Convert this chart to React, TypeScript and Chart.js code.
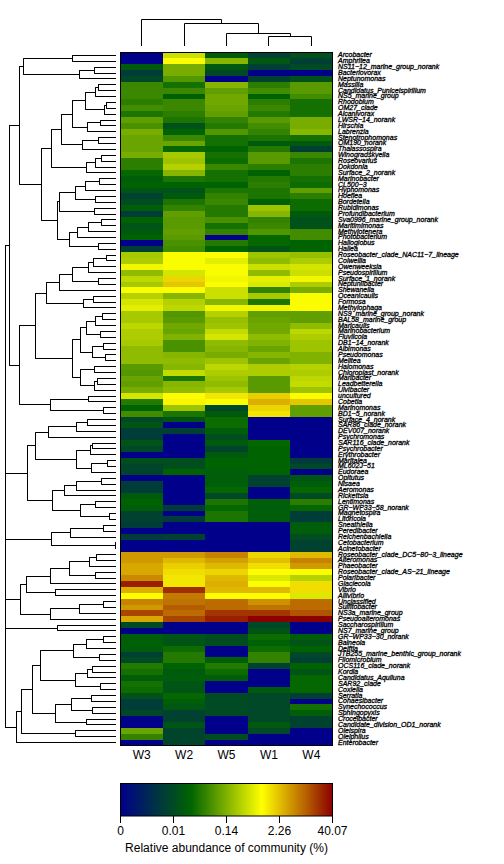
import React, { useEffect, useRef } from "react";
import { Chart, registerables } from "chart.js";

Chart.register(...registerables);

const samples = ["W3", "W2", "W5", "W1", "W4"];

const taxa = [
  "Arcobacter", "Amphritea", "NS11−12_marine_group_norank", "Bacteriovorax", "Neptunomonas", "Massilia",
  "Candidatus_Puniceispirillum", "NS5_marine_group", "Rhodobium", "OM27_clade", "Alcanivorax", "LWSR−14_norank",
  "Hirschia", "Labrenzia", "Stenotrophomonas", "OM190_norank", "Thalassospira", "Winogradskyella", "Roseovarius",
  "Dokdonia", "Surface_2_norank", "Marinobacter", "CL500−3", "Hyphomonas", "Hoeflea", "Bordetella", "Rubidimonas",
  "Profundibacterium", "Sva0996_marine_group_norank", "Maritimimonas", "Methylotenera", "Photobacterium",
  "Halioglobus", "Hallea", "Roseobacter_clade_NAC11−7_lineage", "Colwellia", "Owenweeksia", "Pseudospirillum",
  "Surface_1_norank", "Neptuniibacter", "Shewanella", "Oceanicaulis", "Formosa", "Methylophaga",
  "NS9_marine_group_norank", "BAL58_marine_group", "Maricaulis", "Marinobacterium", "Fluviicola", "DB1−14_norank",
  "Albimonas", "Pseudomonas", "Melitea", "Halomonas", "Chloroplast_norank", "Maribacter", "Leadbetterella",
  "Ulvibacter", "uncultured", "Cobetia", "Marinomonas", "BD1−5_norank", "Surface_4_norank", "SAR86_clade_norank",
  "DEV007_norank", "Psychromonas", "SAR116_clade_norank", "Psychrobacter", "Erythrobacter", "Maritalea", "ML602J−51",
  "Eudoraea", "Opitutus", "Nisaea", "Aeromonas", "Rickettsia", "Lentimonas", "GR−WP33−58_norank", "Magnetospira",
  "Litoricola", "Sneathiella", "Peredibacter", "Reichenbachiella", "Cetobacterium", "Acinetobacter",
  "Roseobacter_clade_DC5−80−3_lineage", "Alteromonas", "Phaeobacter", "Roseobacter_clade_AS−21_lineage",
  "Polaribacter", "Glaciecola", "Vibrio", "Aliivibrio", "Unclassified", "Sulfitobacter", "NS3a_marine_group",
  "Pseudoalteromonas", "Saccharospirillum", "NS7_marine_group", "GR−WP33−30_norank", "Balneola", "Delftia",
  "JTB255_marine_benthic_group_norank", "Filomicrobium", "OCS116_clade_norank", "Kordia", "Candidatus_Aquiluna",
  "SAR92_clade", "Coxiella", "Serratia", "Cohaesibacter", "Synechococcus", "Sphingopyxis", "Crocelbacter",
  "Candidate_division_OD1_norank", "Oleispira", "Oleiphilus", "Enterobacter",
];

// Abundance per sample, as a position (0-100) on the log colour key.
const w3 = [
  0, 0, 30, 20, 24, 41, 41, 41, 39, 42, 37, 46, 43, 49, 47, 47, 47, 49, 39, 39,
  34, 31, 33, 28, 22, 26, 31, 20, 33, 28, 30, 33, 0, 21, 55, 56, 65, 52, 58, 55,
  66, 57, 61, 63, 55, 55, 58, 56, 56, 55, 52, 52, 52, 45, 44, 47, 46, 49, 61, 38,
  33, 42, 24, 28, 20, 20, 28, 24, 0, 26, 23, 23, 0, 20, 20, 30, 33, 31, 22, 22,
  20, 0, 20, 0, 0, 80, 80, 78, 78, 82, 96, 77, 67, 83, 80, 91, 78, 25, 0, 31,
  32, 31, 21, 25, 38, 36, 31, 36, 35, 27, 20, 20, 24, 0, 0, 47, 40, 0,
];
const w2 = [
  60, 67, 49, 49, 44, 36, 41, 32, 41, 41, 39, 37, 27, 33, 41, 47, 34, 55, 54, 57,
  51, 37, 33, 27, 30, 37, 40, 46, 45, 45, 46, 45, 43, 42, 66, 66, 66, 61, 72, 74,
  67, 51, 57, 58, 44, 45, 48, 47, 50, 43, 43, 51, 52, 51, 59, 37, 51, 52, 67, 68,
  54, 37, 28, 0, 21, 0, 0, 0, 0, 26, 26, 33, 0, 0, 0, 0, 0, 20, 0, 20,
  0, 0, 22, 0, 0, 80, 76, 73, 71, 70, 70, 94, 84, 85, 88, 86, 91, 0, 0, 28,
  28, 35, 38, 38, 33, 30, 31, 28, 28, 34, 31, 29, 22, 22, 28, 23, 23, 23,
];
const w5 = [
  31, 51, 30, 24, 0, 51, 46, 48, 48, 47, 46, 40, 38, 44, 36, 36, 33, 36, 35, 41,
  36, 36, 33, 37, 40, 41, 38, 38, 43, 36, 40, 0, 38, 33, 67, 63, 66, 66, 65, 67,
  60, 60, 51, 65, 57, 53, 54, 59, 61, 52, 51, 49, 54, 58, 56, 54, 52, 55, 70, 67,
  24, 30, 35, 35, 31, 26, 30, 23, 30, 33, 33, 31, 31, 31, 34, 24, 37, 34, 37, 37,
  0, 0, 0, 0, 0, 83, 79, 76, 72, 76, 77, 76, 67, 86, 86, 93, 96, 0, 0, 26,
  26, 0, 0, 32, 38, 35, 31, 0, 0, 25, 25, 25, 25, 0, 0, 0, 26, 0,
];
const w1 = [
  22, 29, 21, 0, 22, 39, 42, 33, 39, 41, 38, 45, 42, 40, 37, 30, 38, 45, 45, 39,
  33, 38, 39, 37, 37, 32, 54, 51, 40, 41, 44, 34, 34, 28, 54, 52, 60, 52, 63, 62,
  40, 55, 37, 65, 46, 47, 48, 48, 52, 50, 47, 51, 47, 56, 56, 45, 45, 45, 73, 77,
  72, 70, 0, 0, 0, 0, 34, 33, 33, 33, 33, 33, 22, 22, 0, 0, 31, 31, 31, 31,
  0, 0, 0, 0, 0, 72, 75, 71, 67, 62, 67, 76, 67, 81, 85, 93, 100, 24, 28, 35,
  32, 35, 40, 40, 22, 0, 0, 0, 30, 24, 24, 24, 24, 24, 30, 24, 0, 0,
];
const w4 = [
  27, 21, 25, 0, 27, 45, 45, 42, 36, 36, 36, 49, 49, 51, 36, 30, 21, 41, 37, 39,
  39, 36, 35, 46, 39, 35, 35, 30, 27, 27, 42, 42, 33, 33, 53, 56, 61, 60, 65, 56,
  49, 66, 66, 67, 46, 46, 52, 58, 56, 54, 54, 50, 50, 57, 56, 58, 59, 54, 67, 74,
  46, 46, 0, 0, 0, 0, 0, 0, 0, 20, 24, 0, 28, 31, 34, 25, 39, 34, 20, 20,
  31, 31, 26, 22, 22, 76, 83, 80, 66, 57, 71, 71, 62, 86, 86, 89, 100, 0, 0, 31,
  28, 33, 24, 21, 33, 28, 34, 34, 34, 21, 0, 36, 31, 22, 22, 0, 0, 0,
];
const sampleLevels = [w3, w2, w5, w1, w4];

const keyTicks = ["0", "0.01", "0.14", "2.26", "40.07"];
const keyTitle = "Relative abundance of community (%)";
const keyColors = ["#00008b", "#006400", "#ffff00", "#8b0000"];

// Dendrograms: [merge height, ...children]; 0 is the next leaf in display order.
type Tree = 0 | [number, ...any[]];

const colTree: Tree = [79, 0, [67, 0, [37, 0, [28, 0, 0]]]];

const rowsArcobacter: Tree = [277, [130, 0, 0], [109, [64, 0, 0], 0]];
const rowsMassilia: Tree = [193,
  [163,
    [130,
      [91, [61, [52, 0, 0], 0], [34, [28, 0, 0], 0]],
      [85, [46, 0, 0], 0]],
    [100, [52, 0, 0], 0]],
  [88, [61, [43, 0, 0], 0], 0]];
const rowsMarinobacter: Tree = [175,
  [169, [121, [91, [49, 0, 0], 0], [61, 0, 0]], [64, 0, 0]],
  [139, [115, [82, [43, 0, 0], 0], 0], [52, 0, 0]]];
const rowsRoseoNac: Tree = [289,
  [241,
    [208,
      [169, [130, [82, [67, [28, 0, 0], 0], 0], [52, 0, 0]], 0],
      [97, [67, 0, 0], 0]],
    [130,
      [106, [88, [61, [40, 0, 0], 0], [46, 0, 0]], [70, [37, 0, 0], [31, 0, 0]]],
      [106, [64, 0, 0], [64, [55, 0, 0], 0]]]],
  [196, [82, 0, 0], [37, 0, 0]]];
const rowsSurface4: Tree = [265,
  [241,
    [202, [118, [85, 0, 0], 0], 0],
    [118, [76, [70, 0, 0], 0], [73, [25, 0, 0], 0]]],
  [190,
    [154, [118, [43, 0, 0], 0], 0],
    [106, [61, 0, 0], [19, 0, 0]]]];
const rowsSneathiella: Tree = [193, [136, [37, 0, 0], 0], [1, 0, 0]];
const rowsRoseoDc5: Tree = [286,
  [268,
    [196, [139, [79, [58, 0, 0], 0], [61, 0, 0]], 0],
    [181, 0, 0]],
  [196, [109, [37, 0, 0], 0], 0]];
const rowsSaccharo: Tree = [175, 0, 0];
const rowsGrWp: Tree = [298,
  [283,
    [250,
      [226, [127, [88, [37, 0, 0], 0], [49, 0, 0]], [121, [85, [70, 0, 0], 0], [46, 0, 0]]],
      [181, [133, [73, 0, 0], [70, 0, 0]], [88, 0, 0]]],
    [121, 0, 0]],
  0];
const rowTree: Tree = [331,
  [319, [289, rowsArcobacter, [223, rowsMassilia, rowsMarinobacter]], rowsRoseoNac],
  rowsSurface4, rowsSneathiella, rowsRoseoDc5, rowsSaccharo, rowsGrWp];

const hex = (s: string) => [1, 3, 5].map((i) => parseInt(s.slice(i, i + 2), 16));
function levelColor(level: number) {
  const t = (Math.min(100, Math.max(0, level)) / 100) * (keyColors.length - 1);
  const i = Math.min(keyColors.length - 2, Math.floor(t));
  const a = hex(keyColors[i]);
  const b = hex(keyColors[i + 1]);
  const f = t - i;
  const c = a.map((v, k) => Math.round(v + (b[k] - v) * f));
  return `rgb(${c[0]},${c[1]},${c[2]})`;
}

// Turns a tree into polyline points [position, height], split by NaN gaps.
function treeSegments(tree: Tree) {
  const segs: { pos: number; h: number }[] = [];
  const gap = () => segs.push({ pos: NaN, h: NaN });
  let next = 0;
  const walk = (n: Tree): { pos: number; h: number } => {
    if (n === 0) return { pos: next++ + 0.5, h: 0 };
    const h = n[0];
    const kids = (n.slice(1) as Tree[]).map(walk);
    const first = kids[0];
    const last = kids[kids.length - 1];
    segs.push({ pos: first.pos, h }, { pos: last.pos, h });
    gap();
    kids.forEach((k) => {
      segs.push({ pos: k.pos, h: k.h }, { pos: k.pos, h });
      gap();
    });
    return { pos: (first.pos + last.pos) / 2, h };
  };
  walk(tree);
  return segs;
}

const frame = {
  id: "frame",
  afterDraw(chart: any) {
    const { ctx, chartArea: a } = chart;
    ctx.save();
    ctx.strokeStyle = "#000";
    ctx.lineWidth = 1;
    ctx.strokeRect(a.left, a.top, a.right - a.left, a.bottom - a.top);
    ctx.restore();
  },
};
const whiteBack = {
  id: "whiteBack",
  beforeDraw(chart: any) {
    const { ctx, width, height } = chart;
    ctx.save();
    ctx.fillStyle = "#fff";
    ctx.fillRect(0, 0, width, height);
    ctx.restore();
  },
};
const snapBars = {
  id: "snapBars",
  afterDatasetsUpdate(chart: any) {
    chart.data.datasets.forEach((_: any, i: number) => {
      chart.getDatasetMeta(i).data.forEach((el: any) => {
        const top = Math.round(el.y - el.height / 2);
        const bottom = Math.round(el.y + el.height / 2);
        el.y = (top + bottom) / 2;
        el.height = bottom - top;
        el.x = Math.round(el.x);
        el.base = Math.round(el.base);
      });
    });
  },
};
const snapLines = {
  id: "snapLines",
  afterDatasetsUpdate(chart: any) {
    chart.getDatasetMeta(0).data.forEach((p: any) => {
      if (Number.isFinite(p.x)) p.x = Math.floor(p.x) + 0.5;
      if (Number.isFinite(p.y)) p.y = Math.floor(p.y) + 0.5;
    });
  },
};

const AXIS_FONT = '"Liberation Sans", Arial, sans-serif';
const off = { legend: { display: false }, tooltip: { enabled: false } };

function dendroConfig(points: { x: number; y: number }[], xs: any, ys: any, padding: any) {
  return {
    type: "scatter",
    data: {
      datasets: [{
        data: points, showLine: true, spanGaps: false, pointRadius: 0,
        borderColor: "#000", borderWidth: 1, clip: false,
      }],
    },
    options: {
      animation: false, responsive: false, devicePixelRatio: 1, events: [],
      layout: { padding },
      plugins: off,
      scales: { x: { display: false, ...xs }, y: { display: false, ...ys } },
    },
    plugins: [snapLines],
  };
}

export default function App() {
  const heatRef = useRef<HTMLCanvasElement>(null);
  const rowRef = useRef<HTMLCanvasElement>(null);
  const colRef = useRef<HTMLCanvasElement>(null);
  const keyRef = useRef<HTMLCanvasElement>(null);

  useEffect(() => {
    const charts: Chart[] = [];

    heatRef.current!.getContext("2d", { alpha: false });
    charts.push(new Chart(heatRef.current!, {
      type: "bar",
      data: {
        labels: taxa,
        datasets: samples.map((name, s) => ({
          label: name,
          data: taxa.map(() => 1),
          backgroundColor: sampleLevels[s].map(levelColor),
          barPercentage: 1,
          categoryPercentage: 1,
          borderWidth: 0,
          inflateAmount: 0,
        })),
      },
      options: {
        indexAxis: "y",
        animation: false, responsive: false, devicePixelRatio: 1, events: [],
        layout: { padding: { left: 120.5, top: 52.5, right: 0, bottom: 0 } },
        plugins: off,
        scales: {
          x: {
            type: "linear", stacked: true, min: 0, max: samples.length, position: "bottom",
            grid: { display: false, drawTicks: false }, border: { display: false },
            afterBuildTicks(scale: any) { scale.ticks = samples.map((_, i) => ({ value: i + 0.5 })); },
            afterFit(scale: any) { scale.height = 770 - 745.5; },
            ticks: {
              autoSkip: false, maxRotation: 0, padding: 3, color: "#000",
              font: { family: AXIS_FONT, size: 12 },
              callback: (v: any) => samples[Math.floor(v)],
            },
          },
          y: {
            type: "category", stacked: true, position: "right",
            grid: { display: false, drawTicks: false }, border: { display: false },
            afterFit(scale: any) { scale.width = 171.5; },
            ticks: {
              autoSkip: false, padding: 5.5, color: "#000",
              textStrokeColor: "#000", textStrokeWidth: 0.3,
              font: { family: AXIS_FONT, size: 7, style: "italic" },
            },
          },
        },
      },
      plugins: [whiteBack, snapBars, frame],
    } as any));

    charts.push(new Chart(rowRef.current!, dendroConfig(
      treeSegments(rowTree).map((p) => ({ x: p.h, y: p.pos })),
      { min: 0, max: 347, reverse: true },
      { min: 0, max: taxa.length, reverse: true },
      { top: 52.5, bottom: 770 - 745.5, left: 0, right: 0 },
    ) as any));

    charts.push(new Chart(colRef.current!, dendroConfig(
      treeSegments(colTree).map((p) => ({ x: p.pos, y: p.h })),
      { min: 0, max: samples.length },
      { min: 0, max: 137 },
      { left: 120.5, right: 171.5, top: 0, bottom: 0 },
    ) as any));

    keyRef.current!.getContext("2d", { alpha: false });
    charts.push(new Chart(keyRef.current!, {
      type: "bar",
      data: {
        labels: [""],
        datasets: [{
          data: [keyTicks.length - 1],
          barPercentage: 1, categoryPercentage: 1, borderWidth: 0, inflateAmount: 0,
          backgroundColor: (c: any) => {
            const a = c.chart.chartArea;
            if (!a) return "#000";
            const g = c.chart.ctx.createLinearGradient(a.left, 0, a.right, 0);
            keyColors.forEach((col, i) => g.addColorStop(i / (keyColors.length - 1), col));
            return g;
          },
        }],
      },
      options: {
        indexAxis: "y",
        animation: false, responsive: false, devicePixelRatio: 1, events: [],
        layout: { padding: { left: 120.5, right: 171.5, top: 8.5, bottom: 0 } },
        plugins: off,
        scales: {
          y: { display: false },
          x: {
            type: "linear", min: 0, max: keyTicks.length - 1, position: "bottom",
            grid: { display: true, drawOnChartArea: false, drawTicks: true, tickLength: 7, tickColor: "#000", tickWidth: 1 },
            border: { display: false },
            afterFit(scale: any) { scale.height = 48; },
            title: {
              display: true, text: keyTitle, color: "#000",
              font: { family: AXIS_FONT, size: 12 }, padding: { top: 0, bottom: 8 },
            },
            ticks: {
              stepSize: 1, autoSkip: false, maxRotation: 0, padding: 1, color: "#000",
              font: { family: AXIS_FONT, size: 12 },
              callback: (v: any) => keyTicks[v],
            },
          },
        },
      },
      plugins: [whiteBack, frame],
    } as any));

    return () => charts.forEach((c) => c.destroy());
  }, []);

  const abs = (left: number, top: number): React.CSSProperties => ({ position: "absolute", left, top, display: "block" });
  return (
    <div style={{ position: "absolute", left: 0, top: 0, width: 504, height: 864, background: "#fff" }}>
      <canvas ref={heatRef} width={504} height={770} style={abs(0, 0)} />
      <canvas ref={rowRef} width={116} height={770} style={abs(0, 0)} />
      <canvas ref={colRef} width={504} height={46} style={abs(0, 0)} />
      <canvas ref={keyRef} width={504} height={89} style={abs(0, 775)} />
    </div>
  );
}
